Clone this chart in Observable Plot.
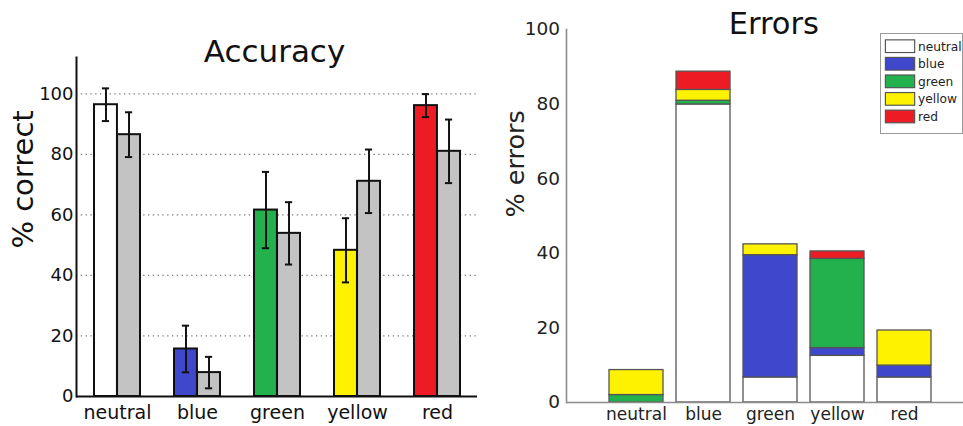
<!DOCTYPE html>
<html>
<head>
<meta charset="utf-8">
<script src="https://cdn.jsdelivr.net/npm/d3@7"></script>
<script src="https://cdn.jsdelivr.net/npm/@observablehq/plot@0.6"></script>
<style>
  body { margin: 0; background: #fff; width: 963px; height: 426px; overflow: hidden; position: relative; font-family: "DejaVu Sans", Verdana, sans-serif; }
  #row { display: flex; }
  #legend { position: absolute; left: 880px; top: 33px; border: 1.5px solid #9a9a9a; background: #fff; line-height: 0; }
</style>
</head>
<body>
<div id="row"><div id="acc"></div><div id="err"></div></div>
<div id="legend"></div>
<script>
// Stimulus categories (x axis of both panels)
const categories = ["neutral", "blue", "green", "yellow", "red"];
const palette = ["#ffffff", "#3f48cc", "#22b14c", "#fff200", "#ed1c24"];
const grayFill = "#c3c3c3";

// Accuracy (% correct): coloured condition and gray condition, with error bars
const accColor    = [96.4, 15.7, 61.6, 48.3, 96.1];
const accColorErr = [5.4, 7.7, 12.6, 10.6, 3.8];
const accGray     = [86.5, 7.9, 53.9, 71.1, 81.0];
const accGrayErr  = [7.4, 5.2, 10.3, 10.5, 10.5];
const accTicks    = [0, 20, 40, 60, 80, 100];

// Errors (% errors), split by response category, per stimulus category
const responses = ["neutral", "blue", "green", "yellow", "red"];
const errNeutral = [0, 79.9, 6.7, 12.5, 6.7];
const errBlue    = [0, 0, 32.8, 2.1, 3.2];
const errGreen   = [2.0, 1.0, 0, 23.9, 0];
const errYellow  = [6.7, 2.9, 2.9, 0, 9.4];
const errRed     = [0, 4.9, 0, 2.0, 0];
const errTicks   = [0, 20, 40, 60, 80, 100];

const font = "DejaVu Sans";

// ---------- Accuracy panel ----------
const accW = 490, H = 426;
const accML = 76, accMR = 13;
const padIn = 0.425, padOut = 0.2125;
const step = (accW - accML - accMR) / (categories.length - padIn + 2 * padOut);
const bw = step * (1 - padIn);
const half = bw / 2;
const capW = 7.3;

const colorRows = categories.map((c, i) => ({cat: c, value: accColor[i], err: accColorErr[i]}));
const grayRows  = categories.map((c, i) => ({cat: c, value: accGray[i], err: accGrayErr[i]}));

const errorMarks = (rows, left) => [
  Plot.ruleX(rows, {x: "cat", y1: d => d.value - d.err, y2: d => d.value + d.err,
    dx: left ? -half / 2 : half / 2, stroke: "#111", strokeWidth: 2}),
  ...["hi", "lo"].map(k => Plot.tickY(rows, {x: "cat",
    y: d => k === "hi" ? d.value + d.err : d.value - d.err,
    insetLeft: left ? half / 2 - capW / 2 : half * 1.5 - capW / 2,
    insetRight: left ? half * 1.5 - capW / 2 : half / 2 - capW / 2,
    stroke: "#111", strokeWidth: 2}))
];

const acc = Plot.plot({
  width: accW, height: H,
  marginLeft: accML, marginRight: accMR, marginTop: 57, marginBottom: 30,
  style: {fontFamily: font, color: "#111", background: "white"},
  x: {domain: categories, paddingInner: padIn, paddingOuter: padOut, axis: null},
  y: {domain: [0, 112], axis: null},
  color: {domain: categories, range: palette},
  marks: [
    Plot.gridY(accTicks.filter(t => t > 0), {stroke: "#777", strokeOpacity: 1, strokeWidth: 1.3, strokeDasharray: "1.3,3.5"}),
    Plot.barY(colorRows, {x: "cat", y: "value", fill: "cat", stroke: "#111", strokeWidth: 2, insetRight: half}),
    Plot.barY(grayRows, {x: "cat", y: "value", fill: grayFill, stroke: "#111", strokeWidth: 2, insetLeft: half}),
    ...errorMarks(colorRows, true),
    ...errorMarks(grayRows, false),
    Plot.axisY({ticks: accTicks, tickSize: 0, tickPadding: 3, fontSize: 18, label: null}),
    Plot.axisX({tickSize: 0, tickPadding: 9, fontSize: 19, label: null}),
    Plot.ruleY([0], {stroke: "#111", strokeWidth: 2}),
    Plot.frame({anchor: "left", stroke: "#111", strokeWidth: 2}),
    Plot.text(["Accuracy"], {frameAnchor: "top", lineAnchor: "bottom", dy: 4.7, dx: -2.5, fontSize: 31, fill: "#111"}),
    Plot.text(["% correct"], {frameAnchor: "left", rotate: -90, lineAnchor: "middle", dx: -52.5, dy: 21.6, fontSize: 29, fill: "#111"})
  ]
});
document.getElementById("acc").appendChild(acc);

// ---------- Errors panel ----------
const errSeries = [errNeutral, errBlue, errGreen, errYellow, errRed];
const errRows = [];
categories.forEach((c, i) => {
  responses.forEach((r, j) => {
    const v = errSeries[j][i];
    if (v > 0) errRows.push({cat: c, resp: r, value: v});
  });
});

const errW = 963 - accW, errML = 76;
const err = Plot.plot({
  width: errW, height: H,
  marginLeft: errML, marginRight: 0, marginTop: 29, marginBottom: 24,
  style: {fontFamily: font, color: "#222", background: "white"},
  x: {domain: categories, range: [errML, errW + 10], paddingInner: 0.2, paddingOuter: 0.6, axis: null},
  y: {domain: [0, 100], axis: null},
  color: {domain: responses, range: palette},
  marks: [
    Plot.barY(errRows, {x: "cat", y: "value", fill: "resp", order: responses, stroke: "#555", strokeWidth: 1.3}),
    Plot.axisY({ticks: errTicks, tickSize: 0, tickPadding: 6.5, fontSize: 18.5, label: null}),
    Plot.axisX({tickSize: 0, tickPadding: 5.6, fontSize: 17, label: null}),
    Plot.ruleY([0], {stroke: "#8c8c8c", strokeWidth: 1.6}),
    Plot.frame({anchor: "left", stroke: "#8c8c8c", strokeWidth: 1.6}),
    Plot.text(["Errors"], {frameAnchor: "top", lineAnchor: "bottom", dy: 4.3, dx: 8.8, fontSize: 30.5, fill: "#111"}),
    Plot.text(["% errors"], {frameAnchor: "left", rotate: -90, lineAnchor: "middle", dx: -51, dy: 1.6, fontSize: 25.5, fill: "#222"})
  ]
});
document.getElementById("err").appendChild(err);

// ---------- Legend for the error categories ----------
const legend = Plot.plot({
  width: 83, height: 101,
  marginLeft: 4.5, marginRight: 0, marginTop: 0, marginBottom: 0,
  style: {fontFamily: font, color: "#222", background: "white"},
  y: {domain: responses, range: [1.6, 94.9], paddingInner: 0.3, paddingOuter: 0.15, axis: null},
  color: {domain: responses, range: palette},
  marks: [
    Plot.cell(responses, {y: d => d, fill: d => d, stroke: "#555", strokeWidth: 1.2, insetRight: 48.5}),
    Plot.text(responses, {y: d => d, text: d => d, frameAnchor: "left", dx: 33, textAnchor: "start", fontSize: 12.5, fill: "#222"})
  ]
});
document.getElementById("legend").appendChild(legend);
</script>
</body>
</html>
